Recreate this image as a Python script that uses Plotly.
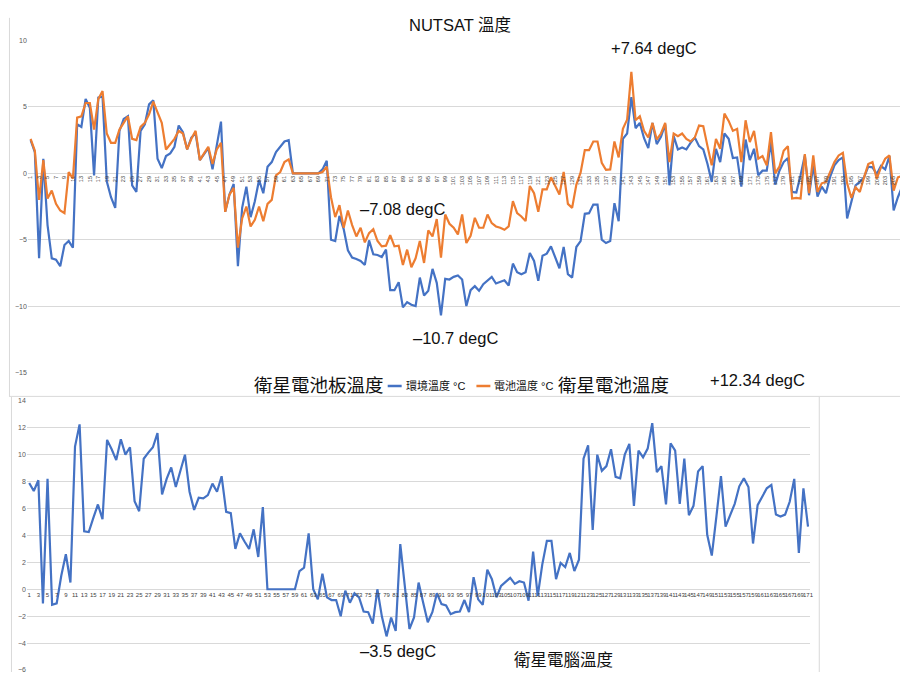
import plotly.graph_objects as go

W, H = 903, 675

# NUTSAT 溫度 — 環境溫度 °C (blue), one value per sample
env_temp = [
    2.5, 1.6, -6.4, 1.1, -3.9, -6.4, -6.5, -7.0, -5.4, -5.1,
    -5.6, 3.7, 3.5, 5.6, 4.95, -0.15, 5.7, 5.8, -0.6, -1.8,
    -2.6, 3.2, 4.1, 4.3, -0.9, -1.4, 3.2, 3.7, 5.2, 5.5,
    1.1, 0.4, 1.3, 1.5, 2.0, 3.6, 3.1, 1.8, 2.7, 3.0,
    1.0, 1.5, 1.9, 0.3, 2.2, 3.9, -2.9, -1.6, -0.8, -7.0,
    -2.6, -1.0, -3.3, -2.1, -0.5, -1.5, 0.5, 0.85, 1.6, 2.0,
    2.4, 2.5, 0, 0, 0, 0, 0, 0, 0, 0.3,
    0.95, -5.0, -5.1, -3.2, -4.2, -5.8, -6.35, -6.45, -6.6, -6.9,
    -5.05, -6.1, -6.15, -6.3, -5.75, -8.8, -8.8, -8.2, -10.1, -9.7,
    -9.9, -10.0, -7.85, -9.2, -8.85, -7.2, -8.25, -10.7, -7.95, -8.0,
    -7.8, -7.7, -8.0, -10.0, -8.8, -8.5, -8.85, -8.35, -8.1, -7.8,
    -8.3, -8.15, -8.05, -8.45, -6.8, -7.45, -7.6, -7.45, -6.0, -6.6,
    -8.1, -6.2, -6.05, -5.5, -6.4, -7.15, -5.55, -7.6, -7.85, -5.55,
    -5.1, -3.05, -3.0, -2.35, -2.35, -5.0, -5.25, -5.1, -2.25, -3.6,
    2.6, 3.0, 5.75, 3.4, 3.8, 2.65, 1.9, 3.8, 2.2, 2.75,
    3.7, -0.9, 2.8, 1.8, 1.95, 1.8, 2.3, 2.7, 2.05, 1.8,
    0.7, -0.65, 1.85, 0.85, 3.0, 2.6, 1.15, 1.2, -1.0, 2.55,
    1.0, 1.85, -0.15, 0.2, 0.2, 2.35, -0.85, 0.2, 0.85, 1.15,
    -1.4, -1.45, -0.15, 1.35, -1.65, 0.6, -1.75, -1.0, -1.5, -0.25,
    0.6, 1.0, 1.2, -3.4, -2.15, -0.9, -0.65, -0.3, 0.5, 0.45,
    -0.05, 0.55, 0.3, 1.3, -2.8, -1.8, -1.0,
]

# NUTSAT 溫度 — 電池溫度 °C (orange)
batt_temp = [
    2.6, 1.7, -2.0, 1.0, -1.9, -1.3, -2.3, -2.8, -3.0, 0.1,
    -0.4, 4.2, 4.3, 5.3, 5.3, 3.3, 5.6, 6.2, 3.0, 2.3,
    2.3, 3.3, 3.8, 4.3, 2.6, 2.5, 3.5, 3.8, 4.45, 5.4,
    4.6, 3.8, 1.8, 2.2, 2.6, 3.2, 3.0, 1.8, 2.6, 3.2,
    1.0, 1.5, 2.0, 0.7, 1.8, 2.3, -2.9, -1.6, -1.1, -5.6,
    -3.4, -2.5, -4.0, -3.5, -2.5, -3.6, -2.3, -2.0, -0.15, 0.1,
    0.85, 1.05, 0, 0, 0, 0, 0, 0, 0, 0.1,
    0.5, -1.8, -3.3, -2.4, -4.1, -2.8, -3.9, -4.75, -4.1, -5.2,
    -4.5, -4.2, -5.1, -5.5, -5.45, -4.65, -5.5, -5.45, -6.9, -5.75,
    -7.08, -6.4, -5.1, -6.75, -4.3, -4.75, -3.45, -6.35, -3.1, -3.8,
    -4.1, -4.6, -3.1, -5.25, -4.7, -3.35, -4.1, -4.1, -3.1, -3.75,
    -4.0, -4.1, -4.25, -4.0, -2.1, -3.0, -3.25, -3.6, -0.95, -1.5,
    -2.9, -1.2, -1.2, -0.3, -0.95, -1.6, 0.1, -2.3, -2.6, -0.85,
    0.05, 1.75, 1.75, 2.4, 2.4, 0.8, 0.27, 0.3, 2.4, 1.2,
    3.35, 4.05, 7.64, 4.0, 4.3, 3.2, 2.7, 3.8, 2.55, 3.0,
    3.8, 0.85, 3.0, 2.8, 3.0, 2.6, 2.4, 2.7, 3.6, 3.55,
    2.05, 0.6, 2.6, 1.85, 4.5, 3.95, 3.2, 3.35, 0.85, 4.0,
    2.35, 3.2, 1.1, 1.3, 0.6, 3.1, 0.0, 0.5, 1.7, 2.05,
    -1.9, -1.85, -1.9, 1.45, -1.5, 1.35, -1.4, -0.75, -0.65, 0.1,
    0.85, 1.35, 1.55, -0.75, -1.85, -1.05, -1.4, -0.3, 0.7, 0.85,
    -0.4, 0.45, 1.1, 1.35, -1.3, -0.3, -0.2,
]

# 衛星電腦溫度 (blue, lower chart)
obc_temp = [
    7.9, 7.3, 8.1, -1.05, 8.2, -1.15, -1.05, 1.0, 2.6, 0.5,
    10.6, 12.25, 4.3, 4.25, 5.3, 6.3, 5.2, 11.1, 10.4, 9.6,
    11.15, 10.0, 10.55, 6.55, 5.8, 9.7, 10.15, 10.55, 11.6, 7.05,
    8.2, 9.05, 7.6, 8.8, 10.0, 7.25, 5.9, 6.8, 6.75, 7.0,
    7.85, 7.25, 8.4, 5.75, 5.65, 3.0, 4.15, 3.55, 3.0, 4.45,
    2.4, 6.1, 0, 0, 0, 0, 0, 0, 0, 1.35,
    1.6, 4.15, 0, -0.75, 1.15, -0.6, -0.8, -0.8, -2.0, -0.1,
    -1.0, -0.3, -0.6, -1.65, -1.7, -2.55, 0.0, -2.05, -3.5, -2.1,
    -3.1, 3.35, 0.25, -2.95, -2.1, 0.5, -1.0, -2.45, -1.7, -0.3,
    -1.1, -1.2, -1.85, -1.7, -1.65, -0.8, -1.7, 0.9, -0.75, -1.15,
    1.45, 0.75, -0.6, 0.25, 0.55, 0.85, 0.4, 0.6, 0.5, -0.85,
    2.8, -0.5, 1.85, 3.6, 3.6, 0.75, 1.95, 1.65, 2.7, 1.35,
    2.2, 9.7, 10.7, 4.4, 10.0, 8.8, 9.15, 10.4, 8.35, 8.25,
    10.0, 10.8, 6.2, 10.3, 9.8, 10.45, 12.34, 8.7, 9.15, 6.3,
    10.85, 10.3, 6.35, 9.7, 5.5, 6.2, 8.75, 9.15, 4.05, 2.5,
    5.4, 8.4, 4.65, 5.5, 6.35, 7.65, 8.25, 7.6, 3.4, 6.25,
    6.85, 7.5, 7.75, 5.55, 5.4, 5.55, 6.5, 8.2, 2.7, 7.5,
    4.65,
]

top_idx = list(range(1, len(env_temp) + 1))
bot_idx = list(range(1, len(obc_temp) + 1))
top_ticks = top_idx[::2]
bot_ticks = bot_idx[::2]

BLUE = "#4472C4"
ORANGE = "#ED7D31"
GRID = "#D9D9D9"
TICK = "#595959"
FONT = "Liberation Sans, Arial, Noto Sans CJK TC, sans-serif"


def fx(px):
    return px / W


def fy(px):
    return 1 - px / H


fig = go.Figure()
fig.add_trace(go.Scatter(x=top_idx, y=env_temp, mode="lines", name="環境溫度 °C",
                         line=dict(color=BLUE, width=2.2), xaxis="x", yaxis="y"))
fig.add_trace(go.Scatter(x=top_idx, y=batt_temp, mode="lines", name="電池溫度 °C",
                         line=dict(color=ORANGE, width=2.2), xaxis="x", yaxis="y"))
fig.add_trace(go.Scatter(x=bot_idx, y=obc_temp, mode="lines", name="衛星電腦溫度",
                         line=dict(color=BLUE, width=2.2), xaxis="x2", yaxis="y2"))

# Thin panel frames
frame = dict(color=GRID, width=1)
shapes = [
    dict(type="line", xref="paper", yref="paper", x0=fx(9.5), x1=fx(9.5), y0=fy(14), y1=fy(397), line=frame),
    dict(type="line", xref="paper", yref="paper", x0=fx(9.5), x1=1, y0=fy(396.5), y1=fy(396.5), line=frame),
    dict(type="line", xref="paper", yref="paper", x0=fx(11.5), x1=fx(11.5), y0=fy(397), y1=0, line=frame),
    dict(type="line", xref="paper", yref="paper", x0=fx(822), x1=fx(822), y0=fy(397), y1=0, line=frame),
    # legend swatches
    dict(type="line", xref="paper", yref="paper", x0=fx(389), x1=fx(403), y0=fy(386), y1=fy(386),
         line=dict(color=BLUE, width=2.5)),
    dict(type="line", xref="paper", yref="paper", x0=fx(478), x1=fx(492), y0=fy(386), y1=fy(386),
         line=dict(color=ORANGE, width=2.5)),
]


def note(text, px, py, size, xanchor="center"):
    return dict(text=text, xref="paper", yref="paper", x=fx(px), y=fy(py),
                xanchor=xanchor, yanchor="middle", showarrow=False,
                font=dict(family=FONT, size=size, color="#111111"))


annotations = [
    note("NUTSAT 溫度", 462, 21, 16.5),
    note("+7.64 degC", 656, 44, 16.5),
    note("–7.08 degC", 404, 207, 16.5),
    note("–10.7 degC", 457, 337, 16.5),
    note("衛星電池板溫度", 320, 386, 18.5),
    note("環境溫度 °C", 405, 386, 11, xanchor="left"),
    note("電池溫度 °C", 494, 386, 11, xanchor="left"),
    note("衛星電池溫度", 616, 385, 18.5),
    note("+12.34 degC", 760, 380, 16.5),
    note("–3.5 degC", 399, 654, 16.5),
    note("衛星電腦溫度", 565, 663, 16.5),
]

fig.update_layout(
    width=W, height=H,
    margin=dict(l=0, r=0, t=0, b=0),
    paper_bgcolor="white", plot_bgcolor="rgba(0,0,0,0)",
    showlegend=False,
    font=dict(family=FONT, color=TICK),
    shapes=shapes,
    annotations=annotations,
    xaxis=dict(
        domain=[fx(28), 1], range=[0.36, 206.5],
        anchor="free", position=fy(171.7),
        tickmode="array", tickvals=top_ticks, ticktext=[str(v) for v in top_ticks],
        tickangle=-90, tickfont=dict(size=5.5, color="#404040"),
        showgrid=False, zeroline=False, showline=False, ticks="",
    ),
    yaxis=dict(
        domain=[fy(372.3), fy(37)], range=[-15, 10], dtick=5, tick0=0,
        anchor="x", gridcolor=GRID, gridwidth=1, zeroline=False, showline=False,
        tickfont=dict(size=7, color=TICK), ticks="",
    ),
    xaxis2=dict(
        domain=[fx(27), fx(813)], range=[0.5, 171.5],
        anchor="free", position=fy(591.7),
        tickmode="array", tickvals=bot_ticks, ticktext=[str(v) for v in bot_ticks],
        tickangle=0, tickfont=dict(size=6, color="#404040"),
        showgrid=False, zeroline=False, showline=False, ticks="",
    ),
    yaxis2=dict(
        domain=[fy(673), fy(401)], range=[-6, 14], dtick=2, tick0=0,
        anchor="x2", gridcolor=GRID, gridwidth=1, zeroline=False, showline=False,
        tickfont=dict(size=7, color=TICK), ticks="",
    ),
)

fig.write_html("out.html")
